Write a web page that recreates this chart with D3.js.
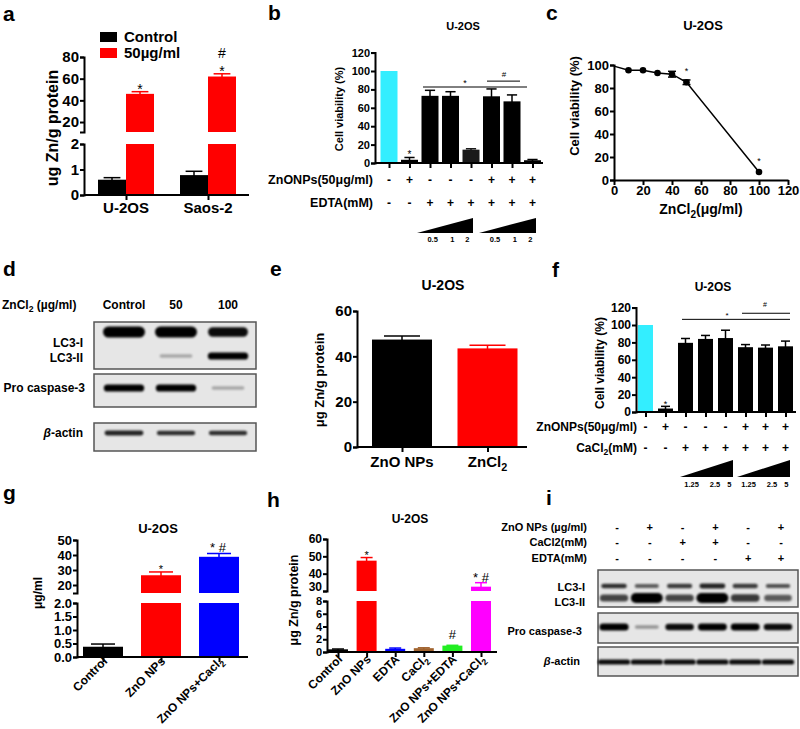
<!DOCTYPE html>
<html><head><meta charset="utf-8">
<script src="https://cdn.jsdelivr.net/npm/d3@7"></script>
<style>
body{margin:0;background:#fff;}
svg{display:block;}
</style></head><body>
<svg id="fig" width="800" height="729"></svg>
<script>
// ================= DATA =================
// a
const aGroups = ["U-2OS", "Saos-2"];
const aSeries = ["Control", "50µg/ml"];
const aControl = [0.6, 0.78];
const aControlErr = [0.08, 0.15];
const aTreated = [46, 62];
const aTreatedErr = [2, 2.5];
const aTicksUpper = [20, 40, 60, 80];
const aTicksLower = [0, 1, 2];
// b
const bValues = [100, 3.5, 73, 73, 14.5, 72.5, 67, 3];
const bErr = [0, 2.5, 6, 4.5, 1, 8, 7, 0.8];
const bZnO = ["-", "+", "-", "-", "-", "+", "+", "+"];
const bEDTA = ["-", "-", "+", "+", "+", "+", "+", "+"];
const bDoses = ["0.5", "1", "2"];
const bTicks = [0, 20, 40, 60, 80, 100, 120];
// c
const cDose = [0, 10, 20, 30, 40, 50, 100];
const cViability = [99, 95.5, 95.5, 93, 92, 85, 7];
const cErr = [0, 0.6, 0.6, 0.6, 2.5, 2, 0.6];
const cXTicks = [0, 20, 40, 60, 80, 100, 120];
const cYTicks = [0, 20, 40, 60, 80, 100];
// d (western blot band intensities, 0..1)
const dLanes = ["Control", "50", "100"];
const dLC3I = [1.0, 1.0, 0.8];
const dLC3II = [0, 0.12, 0.85];
const dProCasp = [0.85, 0.85, 0.12];
const dActin = [0.7, 0.65, 0.65];
// e
const eCats = ["ZnO NPs", "ZnCl₂"];
const eValues = [47.4, 43.5];
const eErr = [1.6, 1.4];
const eTicks = [0, 20, 40, 60];
// f
const fValues = [100, 4, 79.5, 84, 85, 74.5, 74, 75.5];
const fErr = [0, 2.5, 5, 4, 9, 3, 3, 6];
const fZnO = ["-", "+", "-", "-", "-", "+", "+", "+"];
const fCaCl2 = ["-", "-", "+", "+", "+", "+", "+", "+"];
const fDoses = ["1.25", "2.5", "5"];
const fTicks = [0, 20, 40, 60, 80, 100, 120];
// g
const gCats = ["Control", "ZnO NPs", "ZnO NPs+Cacl₂"];
const gValues = [0.38, 26.5, 38.8];
const gErr = [0.1, 2.2, 2.2];
const gTicksUpper = [20, 30, 40, 50];
const gTicksLower = [0, 0.5, 1, 1.5, 2];
// h
const hCats = ["Control", "ZnO NPs", "EDTA", "CaCl₂", "ZnO NPs+EDTA", "ZnO NPs+CaCl₂"];
const hValues = [0.42, 47.5, 0.5, 0.6, 1.0, 32.5];
const hErr = [0.05, 1.8, 0.12, 0.06, 0.05, 2.3];
const hTicksUpper = [30, 40, 50, 60];
const hTicksLower = [0, 2, 4, 6, 8];
// i
const iZnO = ["-", "+", "-", "+", "-", "+"];
const iCaCl2 = ["-", "-", "+", "+", "-", "-"];
const iEDTA = ["-", "-", "-", "-", "+", "+"];
const iLC3I = [0.65, 0.45, 0.6, 0.7, 0.6, 0.5];
const iLC3II = [0.55, 1.0, 0.55, 1.0, 0.6, 0.45];
const iProCasp = [0.9, 0.2, 0.8, 0.85, 0.85, 0.8];
const iActin = [0.8, 0.8, 0.8, 0.8, 0.8, 0.8];

// ================= HELPERS =================
const FONT = '"Liberation Sans", Arial, Helvetica, sans-serif';
const svg = d3.select("#fig");
svg.append("rect").attr("width", 800).attr("height", 729).attr("fill", "#fff");
const defs = svg.append("defs");
defs.append("filter").attr("id", "blur").attr("x", "-50%").attr("y", "-100%").attr("width", "200%").attr("height", "300%")
  .append("feGaussianBlur").attr("stdDeviation", 1.3);

function rich(t, s, fs) {
  const parts = s.split(/(₂|β)/).filter(p => p !== "");
  let shift = 0;
  parts.forEach(p => {
    if (p === "₂") {
      t.append("tspan").attr("font-size", fs * 0.72).attr("dy", fs * 0.28).text("2");
      shift = -fs * 0.28;
    } else {
      const ts = t.append("tspan").text(p);
      if (p === "β") ts.attr("font-style", "italic");
      if (shift) { ts.attr("dy", shift); shift = 0; }
    }
  });
  return t;
}
function txt(g, x, y, s, fs, anchor = "start", weight = "bold") {
  const t = g.append("text").attr("x", x).attr("y", y).attr("font-family", FONT)
    .attr("font-size", fs).attr("font-weight", weight).attr("text-anchor", anchor).attr("fill", "#000");
  return rich(t, s, fs);
}
function rtxt(g, x, y, s, fs) { // rotated -90 centered
  const t = g.append("text").attr("transform", `translate(${x},${y}) rotate(-90)`).attr("font-family", FONT)
    .attr("font-size", fs).attr("font-weight", "bold").attr("text-anchor", "middle").attr("fill", "#000");
  return rich(t, s, fs);
}
function yAxis(g, scale, x, ticks, fmt, fs, sw = 2) {
  const ax = g.append("g").attr("transform", `translate(${x},0)`)
    .call(d3.axisLeft(scale).tickValues(ticks).tickFormat(fmt || d3.format("d")).tickSize(4).tickSizeOuter(4).tickPadding(1));
  ax.attr("font-family", FONT).attr("font-size", fs).attr("font-weight", "bold");
  ax.select(".domain").attr("stroke", "#000").attr("stroke-width", sw);
  ax.selectAll(".tick line").attr("stroke", "#000").attr("stroke-width", sw);
  ax.selectAll(".tick text").attr("fill", "#000");
  return ax;
}
function xAxis(g, xc, x0, x1, y, sw = 2) {
  g.append("line").attr("x1", x0).attr("x2", x1).attr("y1", y).attr("y2", y).attr("stroke", "#000").attr("stroke-width", sw);
  const ax = g.append("g").attr("transform", `translate(0,${y})`)
    .call(d3.axisBottom(xc).tickSize(5).tickSizeOuter(0).tickFormat(""));
  ax.select(".domain").remove();
  ax.selectAll(".tick line").attr("stroke", "#000").attr("stroke-width", sw);
}
// draws bar (possibly split over broken axis) + error bar; returns y of error top
function bar(g, cx, w, v, err, color, lo, up) {
  const lTop = Math.min(v, lo.domain()[1]);
  g.append("rect").attr("x", cx - w / 2).attr("width", w).attr("y", lo(lTop)).attr("height", lo(0) - lo(lTop)).attr("fill", color);
  let sc = lo;
  if (up && v > up.domain()[0]) {
    sc = up;
    const b = up.domain()[0];
    g.append("rect").attr("x", cx - w / 2).attr("width", w).attr("y", up(v)).attr("height", up(b) - up(v)).attr("fill", color);
  }
  const yt = sc(v + err);
  if (err > 0) {
    g.append("line").attr("x1", cx).attr("x2", cx).attr("y1", sc(v) + 1).attr("y2", yt).attr("stroke", color).attr("stroke-width", 1.5);
    g.append("line").attr("x1", cx - w * 0.3).attr("x2", cx + w * 0.3).attr("y1", yt).attr("y2", yt).attr("stroke", color).attr("stroke-width", 1.5);
  }
  return yt;
}
function blot(g, x0, y0, w, h) {
  g.append("rect").attr("x", x0).attr("y", y0).attr("width", w).attr("height", h)
    .attr("fill", "#e6e6e6").attr("stroke", "#555").attr("stroke-width", 1.5);
}
function bands(g, xl, vals, y, halfW, halfH) {
  vals.forEach((v, i) => {
    if (v <= 0) return;
    const rw = halfW * (0.75 + 0.25 * v), rh = halfH * (0.35 + 0.65 * v);
    g.append("rect").attr("x", xl(i) - rw).attr("y", y - rh).attr("width", 2 * rw).attr("height", 2 * rh)
      .attr("rx", rh).attr("ry", rh).attr("fill", "#000").attr("opacity", Math.min(1, 0.15 + v)).attr("filter", "url(#blur)");
  });
}
const letter = (x, y, s) => txt(svg, x, y, s, 21, "start");

// ================= PANEL A =================
{
  const g = svg.append("g");
  letter(3, 21, "a");
  const yU = d3.scaleLinear().domain([10.8, 80]).range([132, 57]);
  const yL = d3.scaleLinear().domain([0, 2]).range([195, 144]);
  const xc = d3.scalePoint().domain(aGroups).range([126, 208]);
  const sub = d3.scaleBand().domain(aSeries).range([-28, 28]);
  const colors = ["#000", "#ff0000"];
  // legend
  aSeries.forEach((s, i) => {
    g.append("rect").attr("x", 100).attr("y", 32 + i * 16).attr("width", 17).attr("height", 10).attr("fill", colors[i]);
    txt(g, 124, 42 + i * 16, s, 15);
  });
  aGroups.forEach((grp, i) => {
    bar(g, xc(grp) + sub(aSeries[0]) + sub.bandwidth() / 2, sub.bandwidth(), aControl[i], aControlErr[i], colors[0], yL, yU);
    const yt = bar(g, xc(grp) + sub(aSeries[1]) + sub.bandwidth() / 2, sub.bandwidth(), aTreated[i], aTreatedErr[i], colors[1], yL, yU);
    const cx = xc(grp) + sub(aSeries[1]) + sub.bandwidth() / 2;
    txt(g, cx, yt + 2, "*", 14, "middle", "normal");
    if (i === 1) txt(g, cx, yt - 16, "#", 14, "middle", "normal");
    txt(g, xc(grp), 213, grp, 15, "middle");
  });
  yAxis(g, yU, 84, aTicksUpper, null, 15);
  yAxis(g, yL, 84, aTicksLower, null, 15);
  xAxis(g, xc, 84, 249, 195);
  rtxt(g, 58, 128, "ug Zn/g protein", 16);
}

// ================= PANEL B =================
{
  const g = svg.append("g");
  letter(268, 20, "b");
  txt(g, 463, 30, "U-2OS", 11, "middle");
  const y = d3.scaleLinear().domain([0, 120]).range([163, 52.6]);
  const xc = d3.scalePoint().domain(d3.range(bValues.length)).range([389, 532.5]);
  bValues.forEach((v, i) => {
    const yt = bar(g, xc(i), 17, v, bErr[i], i === 0 ? "#33eeff" : (i === 4 ? "#1a1a1a" : "#000"), y);
    if (i === 1) txt(g, xc(i), yt + 1, "*", 10, "middle", "normal");
  });
  yAxis(g, y, 375, bTicks, null, 11);
  xAxis(g, xc, 375, 543, 163);
  rtxt(g, 343, 109, "Cell viability (%)", 11);
  // significance lines
  g.append("line").attr("x1", 423).attr("x2", 527).attr("y1", y(82.6)).attr("y2", y(82.6)).attr("stroke", "#000").attr("stroke-width", 1);
  txt(g, 465, y(82.6) - 1, "*", 9, "middle", "normal");
  g.append("line").attr("x1", 487).attr("x2", 520).attr("y1", y(89)).attr("y2", y(89)).attr("stroke", "#000").attr("stroke-width", 1);
  txt(g, 504, y(89) - 4, "#", 8, "middle", "normal");
  // rows
  txt(g, 373, 184, "ZnONPs(50μg/ml)", 12.5, "end");
  txt(g, 373, 207, "EDTA(mM)", 12.5, "end");
  bZnO.forEach((s, i) => txt(g, xc(i), 184, s, 12, "middle"));
  bEDTA.forEach((s, i) => txt(g, xc(i), 207, s, 12, "middle"));
  [[417, 473], [479, 536]].forEach(([l, r]) => {
    g.append("polygon").attr("points", `${l},233 ${r},233 ${r},218`).attr("fill", "#000");
    const fr = [0.28, 0.63, 0.9];
    bDoses.forEach((d, k) => txt(g, l + fr[k] * (r - l), 242, d, 7.5, "middle"));
  });
}

// ================= PANEL C =================
{
  const g = svg.append("g");
  letter(546, 20, "c");
  txt(g, 703, 30, "U-2OS", 13, "middle");
  const x = d3.scaleLinear().domain([0, 120]).range([614, 788]);
  const y = d3.scaleLinear().domain([0, 100]).range([180, 65]);
  const pts = cDose.map((d, i) => [d, cViability[i], cErr[i]]);
  g.append("path").datum(pts).attr("d", d3.line().x(p => x(p[0])).y(p => y(p[1])))
    .attr("fill", "none").attr("stroke", "#000").attr("stroke-width", 1.5);
  pts.forEach(p => {
    if (p[2] > 0.8) {
      g.append("line").attr("x1", x(p[0])).attr("x2", x(p[0])).attr("y1", y(p[1] - p[2])).attr("y2", y(p[1] + p[2])).attr("stroke", "#000").attr("stroke-width", 1.5);
      [p[1] - p[2], p[1] + p[2]].forEach(v => g.append("line").attr("x1", x(p[0]) - 4).attr("x2", x(p[0]) + 4).attr("y1", y(v)).attr("y2", y(v)).attr("stroke", "#000").attr("stroke-width", 1.5));
    }
    if (p[0] > 0) g.append("circle").attr("cx", x(p[0])).attr("cy", y(p[1])).attr("r", 3.3).attr("fill", "#000");
  });
  txt(g, x(50), y(92), "*", 9, "middle", "normal");
  txt(g, x(100), y(14), "*", 9, "middle", "normal");
  yAxis(g, y, 614, cYTicks, null, 13);
  const ax = g.append("g").attr("transform", "translate(0,180)")
    .call(d3.axisBottom(x).tickValues(cXTicks).tickSize(5).tickSizeOuter(0).tickPadding(1));
  ax.attr("font-family", FONT).attr("font-size", 13).attr("font-weight", "bold");
  ax.select(".domain").attr("stroke-width", 2);
  ax.selectAll(".tick line").attr("stroke-width", 2);
  ax.selectAll(".tick text").attr("fill", "#000");
  txt(g, 701, 214, "ZnCl₂(μg/ml)", 14, "middle");
  rtxt(g, 579, 106, "Cell viability (%)", 13);
}

// ================= PANEL D =================
{
  const g = svg.append("g");
  letter(3, 276, "d");
  const xl = d3.scalePoint().domain(d3.range(dLanes.length)).range([124, 228]);
  txt(g, 2, 309, "ZnCl₂ (µg/ml)", 12, "start");
  dLanes.forEach((l, i) => txt(g, xl(i), 309, l, 12, "middle"));
  blot(g, 94, 322, 162, 47);
  blot(g, 94, 374, 162, 33);
  blot(g, 94, 423, 162, 28);
  bands(g, xl, dLC3I, 332, 21, 5.5);
  bands(g, xl, dLC3II, 356, 21, 4);
  bands(g, xl, dProCasp, 388, 21, 4);
  bands(g, xl, dActin, 433, 21, 3);
  txt(g, 83, 347, "LC3-I", 12, "end");
  txt(g, 83, 362, "LC3-II", 12, "end");
  txt(g, 85, 392, "Pro caspase-3", 12, "end");
  txt(g, 83, 437, "β-actin", 12, "end");
}

// ================= PANEL E =================
{
  const g = svg.append("g");
  letter(270, 276, "e");
  txt(g, 443, 290, "U-2OS", 14, "middle");
  const y = d3.scaleLinear().domain([0, 60]).range([447, 311]);
  const xc = d3.scalePoint().domain(eCats).range([402, 487.5]);
  const cols = ["#000", "#ff0000"];
  eCats.forEach((c, i) => {
    bar(g, xc(c), 60, eValues[i], eErr[i], cols[i], y);
    txt(g, xc(c), 467, c, 15, "middle");
  });
  yAxis(g, y, 357, eTicks, null, 15);
  xAxis(g, xc, 357, 527, 447);
  rtxt(g, 324, 380, "μg Zn/g protein", 13);
}

// ================= PANEL F =================
{
  const g = svg.append("g");
  letter(552, 277, "f");
  txt(g, 713, 291, "U-2OS", 12, "middle");
  const y = d3.scaleLinear().domain([0, 120]).range([412, 307.6]);
  const xc = d3.scalePoint().domain(d3.range(fValues.length)).range([645.5, 785.5]);
  fValues.forEach((v, i) => {
    const yt = bar(g, xc(i), 15, v, fErr[i], i === 0 ? "#33eeff" : "#000", y);
    if (i === 1) txt(g, xc(i), yt + 1, "*", 9, "middle", "normal");
  });
  yAxis(g, y, 636, fTicks, null, 12);
  xAxis(g, xc, 636, 796, 412);
  rtxt(g, 604, 363, "Cell viability (%)", 12);
  g.append("line").attr("x1", 682).attr("x2", 790).attr("y1", y(106.5)).attr("y2", y(106.5)).attr("stroke", "#000").attr("stroke-width", 1);
  txt(g, 727, y(106.5) - 1, "*", 8, "middle", "normal");
  g.append("line").attr("x1", 742).attr("x2", 790).attr("y1", y(113.5)).attr("y2", y(113.5)).attr("stroke", "#000").attr("stroke-width", 1);
  txt(g, 765, y(113.5) - 6, "#", 7, "middle", "normal");
  txt(g, 637, 431, "ZnONPs(50μg/ml)", 12, "end");
  txt(g, 637, 452, "CaCl₂(mM)", 12, "end");
  fZnO.forEach((s, i) => txt(g, xc(i), 431, s, 12, "middle"));
  fCaCl2.forEach((s, i) => txt(g, xc(i), 452, s, 12, "middle"));
  [[680, 733], [737, 790]].forEach(([l, r]) => {
    g.append("polygon").attr("points", `${l},477 ${r},477 ${r},460`).attr("fill", "#000");
    const fr = [0.22, 0.66, 0.93];
    fDoses.forEach((d, k) => txt(g, l + fr[k] * (r - l), 487, d, 7.5, "middle"));
  });
}

// ================= PANEL G =================
{
  const g = svg.append("g");
  letter(3, 500, "g");
  txt(g, 158, 533, "U-2OS", 13, "middle");
  const yU = d3.scaleLinear().domain([14.67, 50]).range([593, 540]);
  const yL = d3.scaleLinear().domain([0, 2]).range([657, 603]);
  const xc = d3.scalePoint().domain(gCats).range([103, 219]);
  const cols = ["#000", "#ff0000", "#0000ff"];
  gCats.forEach((c, i) => {
    const yt = bar(g, xc(c), 40, gValues[i], gErr[i], cols[i], yL, yU);
    if (i === 1) txt(g, xc(c), yt + 1, "*", 11, "middle", "normal");
    if (i === 2) txt(g, xc(c) - 1, yt - 2, "* #", 13, "middle", "normal");
    const t = g.append("text").attr("transform", `translate(${xc(c) + 5},${662}) rotate(-45)`)
      .attr("font-family", FONT).attr("font-size", 12).attr("font-weight", "bold").attr("text-anchor", "end");
    rich(t, c, 12);
  });
  yAxis(g, yU, 77, gTicksUpper, null, 13);
  yAxis(g, yL, 77, gTicksLower, d3.format(".1f"), 13);
  xAxis(g, xc, 77, 248, 657);
  rtxt(g, 42, 593, "μg/ml", 12);
}

// ================= PANEL H =================
{
  const g = svg.append("g");
  letter(267, 507, "h");
  txt(g, 410, 523, "U-2OS", 12, "middle");
  const yU = d3.scaleLinear().domain([30, 60]).range([591, 539]);
  const yL = d3.scaleLinear().domain([0, 8]).range([652, 601]);
  const xc = d3.scalePoint().domain(hCats).range([338, 481]);
  const cols = ["#000", "#ff0000", "#0000ff", "#a0622d", "#22ee22", "#ff00ff"];
  hCats.forEach((c, i) => {
    const yt = bar(g, xc(c), 20, hValues[i], hErr[i], cols[i], yL, yU);
    if (i === 1) txt(g, xc(c), yt + 1, "*", 11, "middle", "normal");
    if (i === 4) txt(g, xc(c), yt - 6, "#", 13, "middle", "normal");
    if (i === 5) txt(g, xc(c), yt - 1, "* #", 13, "middle", "normal");
    const t = g.append("text").attr("transform", `translate(${xc(c) + 5},${660}) rotate(-45)`)
      .attr("font-family", FONT).attr("font-size", 12).attr("font-weight", "bold").attr("text-anchor", "end");
    rich(t, c, 12);
  });
  const axU = yAxis(g, yU, 327, hTicksUpper, null, 12);
  yAxis(g, yL, 327, hTicksLower, null, 11);
  // label at the break sits tight against the one below; nudge up slightly
  axU.selectAll(".tick text").filter(d => d === 30).attr("y", -4);
  xAxis(g, xc, 327, 497, 652);
  rtxt(g, 298, 600, "μg Zn/g protein", 12.5);
}

// ================= PANEL I =================
{
  const g = svg.append("g");
  letter(546, 505, "i");
  const xl = d3.scalePoint().domain(d3.range(iZnO.length)).range([614, 778]);
  txt(g, 587, 531, "ZnO NPs (µg/ml)", 11, "end");
  txt(g, 587, 546, "CaCl2(mM)", 11, "end");
  txt(g, 587, 562, "EDTA(mM)", 11, "end");
  iZnO.forEach((s, i) => txt(g, xl(i) + 3, 531, s, 11, "middle"));
  iCaCl2.forEach((s, i) => txt(g, xl(i) + 3, 546, s, 11, "middle"));
  iEDTA.forEach((s, i) => txt(g, xl(i) + 3, 562, s, 11, "middle"));
  blot(g, 598, 570, 200, 37);
  blot(g, 598, 613, 200, 30);
  blot(g, 598, 647, 200, 29);
  bands(g, xl, iLC3I, 586, 14, 3);
  bands(g, xl, iLC3II, 598, 16, 5);
  bands(g, xl, iProCasp, 627, 15, 3.8);
  bands(g, xl, iActin, 662, 17, 3);
  txt(g, 585, 591, "LC3-I", 11, "end");
  txt(g, 585, 606, "LC3-II", 11, "end");
  txt(g, 582, 635, "Pro caspase-3", 11, "end");
  txt(g, 580, 665, "β-actin", 11, "end");
}
</script>
</body></html>
